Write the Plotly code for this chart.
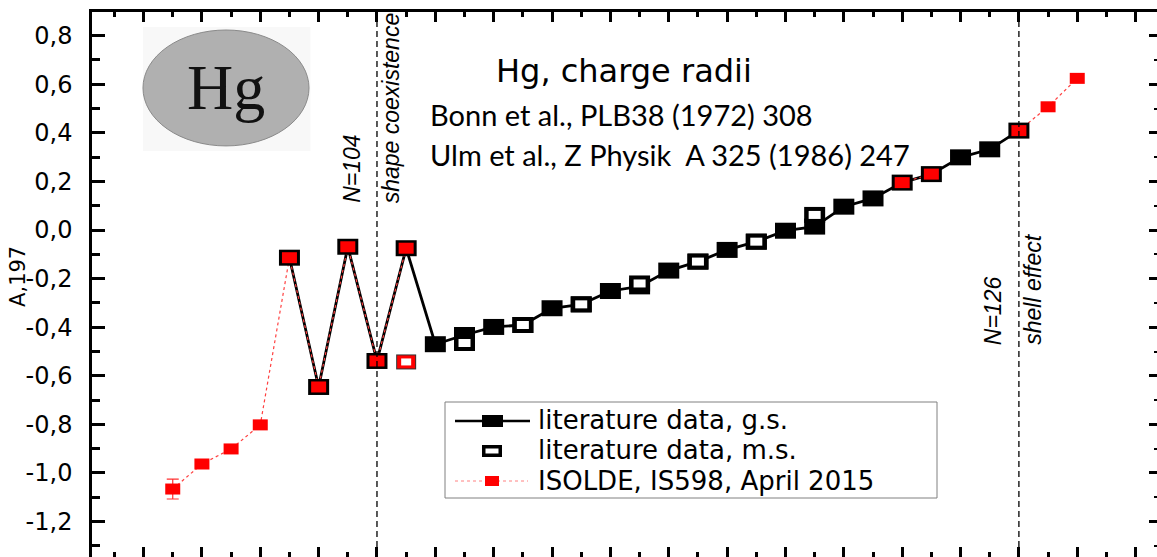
import plotly.graph_objects as go

# ---------------- data (x = neutron number N, y = delta<r^2> in fm^2) ----------------
N_gs = list(range(101, 127))
dr2_gs = [-0.114, -0.646, -0.069, -0.539, -0.075, -0.470, -0.432, -0.399, -0.391, -0.322,
          -0.306, -0.251, -0.232, -0.167, -0.130, -0.082, -0.048, -0.003, 0.014, 0.096,
          0.130, 0.195, 0.230, 0.299, 0.332, 0.409]

N_ms = [107, 109, 111, 113, 115, 117, 119]
dr2_ms = [-0.465, -0.391, -0.306, -0.220, -0.130, -0.048, 0.062]

N_isolde = [97, 98, 99, 100, 101, 102, 103, 104, 105, 122, 123, 126, 127, 128]
dr2_isolde = [-1.066, -0.963, -0.901, -0.802, -0.114, -0.646, -0.069, -0.539, -0.075,
              0.195, 0.230, 0.409, 0.507, 0.624]
err_isolde = [0.041, 0, 0, 0, 0, 0, 0, 0, 0, 0, 0, 0, 0, 0]

N_isolde_ms = [105]
dr2_isolde_ms = [-0.543]

y_tick_vals = [-1.2, -1.0, -0.8, -0.6, -0.4, -0.2, 0.0, 0.2, 0.4, 0.6, 0.8]
y_tick_text = ["-1,2", "-1,0", "-0,8", "-0,6", "-0,4", "-0,2", "0,0", "0,2", "0,4", "0,6", "0,8"]

N_magic = [104, 126]
legend_labels = ["literature data, g.s.", "literature data, m.s.", "ISOLDE, IS598, April 2015"]

# ---------------- geometry ----------------
W, H = 1157, 557
ML, MT = 92, 12
PW, PH = W - ML, H - MT


def px(x):  # pixel -> paper x
    return (x - ML) / PW


def py(y):  # pixel -> paper y
    return (H - y) / PH


# ---------------- helpers ----------------
def broken(xs, ys):
    """insert gaps where consecutive N are not adjacent"""
    bx, by = [], []
    for i, (a, b) in enumerate(zip(xs, ys)):
        if i > 0 and a - xs[i - 1] > 1:
            bx.append(None)
            by.append(None)
        bx.append(a)
        by.append(b)
    return bx, by


def rect_markers(xs, ys, w_px, h_px, color, **kw):
    # line-ew symbol: length = 1.4*size, thickness = line width -> rectangle
    return go.Scatter(x=xs, y=ys, mode="markers", showlegend=False, hoverinfo="skip",
                      marker=dict(symbol="line-ew", size=w_px / 1.4, color=color,
                                  line=dict(color=color, width=h_px)), **kw)


fig = go.Figure()

# lines
fig.add_trace(go.Scatter(x=N_gs, y=dr2_gs, mode="lines", showlegend=False, hoverinfo="skip",
                         name=legend_labels[0], line=dict(color="black", width=2.8)))
lx, ly = broken(N_isolde, dr2_isolde)
fig.add_trace(go.Scatter(x=lx, y=ly, mode="lines", showlegend=False, hoverinfo="skip",
                         connectgaps=False, name=legend_labels[2],
                         line=dict(color="#ff4040", width=1.2, dash="3px,3px")))

# literature g.s. (filled black)
fig.add_trace(rect_markers(N_gs, dr2_gs, 21, 16, "black", name=legend_labels[0]))
# literature m.s. (open)
fig.add_trace(rect_markers(N_ms, dr2_ms, 21, 16, "black", name=legend_labels[1]))
fig.add_trace(rect_markers(N_ms, dr2_ms, 12, 8, "white", name=legend_labels[1]))
# ISOLDE m.s. (open red)
fig.add_trace(rect_markers(N_isolde_ms, dr2_isolde_ms, 20, 15, "#333333", name=legend_labels[2]))
fig.add_trace(rect_markers(N_isolde_ms, dr2_isolde_ms, 18, 13, "red", name=legend_labels[2]))
fig.add_trace(rect_markers(N_isolde_ms, dr2_isolde_ms, 10, 7, "white", name=legend_labels[2]))
# ISOLDE g.s. (red) with error bars
fig.add_trace(go.Scatter(x=N_isolde, y=dr2_isolde, mode="markers", showlegend=False, hoverinfo="skip",
                         name=legend_labels[2],
                         marker=dict(symbol="line-ew", size=15 / 1.4, color="red",
                                     line=dict(color="red", width=11)),
                         error_y=dict(type="data", array=err_isolde, visible=True,
                                      color="#ff3030", thickness=1.2, width=6)))
# invisible trace to register the secondary (tick-only) axes
fig.add_trace(go.Scatter(x=[None], y=[None], xaxis="x2", yaxis="y2", showlegend=False,
                         hoverinfo="skip"))

# ---------------- shapes ----------------
shapes = [
    dict(type="rect", xref="x", yref="y", x0=95.98, x1=101.72, y0=0.325, y1=0.835,
         fillcolor="#f8f8f8", line=dict(width=0), layer="below"),
    dict(type="circle", xref="x", yref="y", x0=95.98, x1=101.67, y0=0.346, y1=0.823,
         fillcolor="#b0b0b0", line=dict(color="#8a8a8a", width=1), layer="below"),
]
for n in N_magic:
    shapes.append(dict(type="line", xref="x", yref="paper", x0=n, x1=n, y0=0, y1=1,
                       line=dict(color="black", width=1.3, dash="6px,4px")))

# legend box and keys
shapes.append(dict(type="rect", xref="paper", yref="paper", x0=px(445), x1=px(937),
                   y0=py(498), y1=py(402), fillcolor="white",
                   line=dict(color="#808080", width=1)))
key_y = [421, 451, 481]
text_y = [419.5, 450, 480.5]
# g.s. key
shapes.append(dict(type="line", xref="paper", yref="paper", x0=px(455), x1=px(530),
                   y0=py(key_y[0]), y1=py(key_y[0]), line=dict(color="black", width=2.5)))
shapes.append(dict(type="rect", xref="paper", yref="paper", x0=px(482), x1=px(503),
                   y0=py(key_y[0] + 6), y1=py(key_y[0] - 6), fillcolor="black",
                   line=dict(width=0)))
# m.s. key
shapes.append(dict(type="rect", xref="paper", yref="paper", x0=px(483.75), x1=px(500.25),
                   y0=py(key_y[1] + 4.25), y1=py(key_y[1] - 4.25), fillcolor="white",
                   line=dict(color="black", width=3.5)))
# ISOLDE key
shapes.append(dict(type="line", xref="paper", yref="paper", x0=px(455), x1=px(528),
                   y0=py(key_y[2]), y1=py(key_y[2]),
                   line=dict(color="#ff8080", width=1, dash="3px,3px")))
shapes.append(dict(type="rect", xref="paper", yref="paper", x0=px(485), x1=px(499),
                   y0=py(key_y[2] + 5), y1=py(key_y[2] - 5), fillcolor="red",
                   line=dict(width=0)))

ann = []
for lab, ry in zip(legend_labels, text_y):
    ann.append(dict(x=px(537), y=py(ry), xref="paper", yref="paper", xanchor="left",
                    yanchor="middle", text=lab, showarrow=False, borderpad=0,
                    font=dict(family="DejaVu Sans", size=26, color="black")))

ann.append(dict(x=98.83, y=0.585, xref="x", yref="y", text="Hg", showarrow=False,
                font=dict(family="Liberation Serif", size=64, color="#111111")))
ann.append(dict(x=112.46, y=0.655, xref="x", yref="y", text="Hg, charge radii", showarrow=False,
                font=dict(family="DejaVu Sans", size=32, color="black")))
ann.append(dict(x=105.75, y=0.477, xref="x", yref="y", xanchor="left",
                text="Bonn et al., PLB38 (1972) 308", showarrow=False,
                font=dict(family="Lato", size=29, color="black")))
ann.append(dict(x=105.75, y=0.309, xref="x", yref="y", xanchor="left",
                text="Ulm et al., Z Physik \u00a0A 325 (1986) 247", showarrow=False,
                font=dict(family="Lato", size=29, color="black")))
rot_font = dict(family="Liberation Sans", size=23, color="black")
ann.append(dict(x=103.14, y=0.103, xref="x", yref="y", yanchor="bottom", textangle=-90,
                text="<i>N=104</i>", showarrow=False, font=rot_font))
ann.append(dict(x=104.51, y=0.103, xref="x", yref="y", yanchor="bottom", textangle=-90,
                text="<i>shape coexistence</i>", showarrow=False, font=rot_font))
ann.append(dict(x=125.14, y=-0.481, xref="x", yref="y", yanchor="bottom", textangle=-90,
                text="<i>N=126</i>", showarrow=False, font=rot_font))
ann.append(dict(x=126.48, y=-0.481, xref="x", yref="y", yanchor="bottom", textangle=-90,
                text="<i>shell effect</i>", showarrow=False, font=rot_font))
# partially visible y-axis title
ann.append(dict(x=px(4), y=-0.193, xref="paper", yref="y", textangle=-90,
                text="A,197", showarrow=False,
                font=dict(family="DejaVu Sans", size=21, color="black")))

x_range = [94.233, 130.733]
y_range = [-1.3457, 0.8971]

fig.update_layout(
    width=W, height=H,
    margin=dict(l=ML, r=0, t=MT, b=0),
    paper_bgcolor="white", plot_bgcolor="white",
    shapes=shapes, annotations=ann,
    showlegend=False,
    xaxis=dict(range=x_range, side="top", showgrid=False, zeroline=False,
               showline=True, linecolor="black", linewidth=2.5,
               ticks="inside", tickmode="linear", tick0=96, dtick=2, ticklen=10,
               tickwidth=2.5, tickcolor="black", showticklabels=False,
               minor=dict(ticks="inside", tick0=95, dtick=1, ticklen=5, tickwidth=2.5,
                          tickcolor="black")),
    xaxis2=dict(range=x_range, overlaying="x", side="bottom", showgrid=False, zeroline=False,
                showline=False, ticks="inside", tickmode="linear", tick0=96, dtick=2,
                ticklen=10, tickwidth=2.5, tickcolor="black", showticklabels=False,
                minor=dict(ticks="inside", tick0=95, dtick=1, ticklen=5, tickwidth=2.5,
                           tickcolor="black")),
    yaxis=dict(range=y_range, showgrid=False, zeroline=False,
               showline=True, linecolor="black", linewidth=2.5,
               ticks="inside", tickmode="array", tickvals=y_tick_vals, ticktext=y_tick_text,
               ticklen=13, tickwidth=2.5, tickcolor="black", ticklabelstandoff=12,
               tickfont=dict(family="DejaVu Sans", size=24, color="black"),
               minor=dict(ticks="inside", tick0=0, dtick=0.1, ticklen=8, tickwidth=2.5,
                          tickcolor="black")),
    yaxis2=dict(range=y_range, overlaying="y", side="right", showgrid=False, zeroline=False,
                showline=False, ticks="inside", tickmode="array", tickvals=y_tick_vals,
                ticklen=8, tickwidth=2.5, tickcolor="black", showticklabels=False,
                minor=dict(ticks="inside", tick0=0, dtick=0.1, ticklen=3, tickwidth=2,
                           tickcolor="black")),
)

fig.write_html("out.html")
